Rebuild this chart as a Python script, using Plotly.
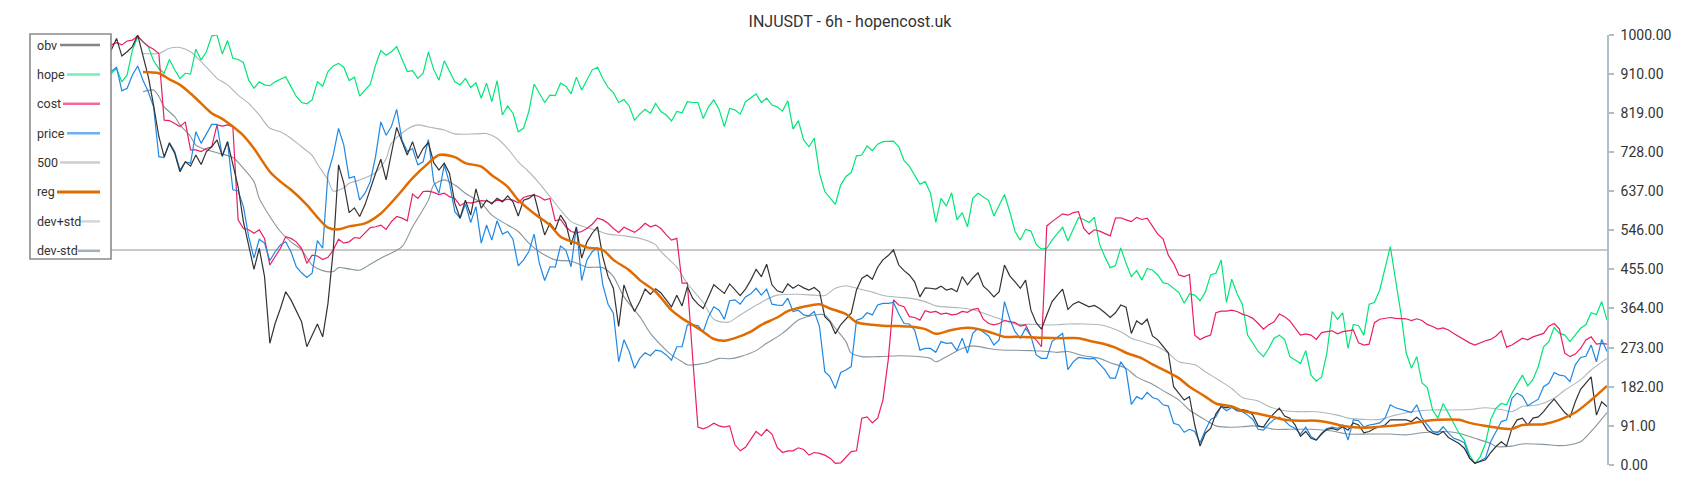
import plotly.graph_objects as go

# ---------------- data (bar index 0..298, values normalised 0..1000) ----------------
N = 299
t = list(range(N))

obv = [905, 930, 918, 945, 962, 950, 972, 958, 980, 992, 975, 960, 978, 955, 970,
       965, 992, 951, 961, 973, 1000, 950, 903, 837, 764,
       717, 748, 725, 682, 705, 695, 721, 699, 729, 740,
       756, 719, 752, 702, 647, 566, 508, 455, 504, 438,
       283, 329, 364, 403, 384, 357, 333, 275, 300, 328,
       298, 376, 500, 698, 655,
       587, 598, 578, 605, 643, 678, 711, 663, 725, 785,
       752, 721, 752, 713, 736, 750, 703, 686, 702, 678,
       609, 574, 616, 581, 642, 597, 616, 607, 620, 612,
       626, 612, 579, 616, 620, 629, 581, 535, 562, 547,
       581, 562, 512, 553, 481, 519, 539, 554, 484, 438,
       411, 322, 419, 384, 357, 380, 409, 397, 410, 400,
       384, 368, 395, 370, 415, 388, 374, 364, 391, 419,
       409, 399, 421, 407, 394, 409, 430, 455, 438, 467,
       419, 405, 401, 421, 411, 419, 412, 407, 413, 403,
       345, 333, 305, 326, 339, 353, 407, 434, 442, 432,
       460, 477, 487, 500, 465, 452, 442, 426, 391, 412,
       411, 409, 416, 407, 410, 403, 438, 419, 435, 447,
       416, 405, 391, 403, 465, 440, 426, 411, 430, 360,
       331, 316, 349, 380, 395, 409, 362, 374, 380, 374,
       368, 371, 364, 354, 343, 354, 372, 367, 306, 335,
       327, 339, 300, 291, 277, 261, 182, 167, 151, 159,
       93, 44, 74, 85, 119, 136, 133, 137, 128, 129,
       126, 116, 91, 88, 106, 120, 132, 114, 109, 93,
       67, 78, 62, 58, 72, 83, 85, 81, 89, 81,
       98, 93, 75, 78, 85, 89, 93, 105, 105, 105,
       105, 101, 111, 101, 81, 74, 70, 78, 64, 57,
       50, 39, 16, 4, 8, 12, 29, 43, 54, 44,
       85, 105, 109, 93, 109, 112, 124, 140, 153, 137,
       122, 111, 147, 176, 191, 205, 116, 147, 136]

hope = [880, 905, 890, 930, 915, 950, 935, 900, 925, 945, 920, 900, 915, 935, 920,
        911, 922, 891, 907, 965, 996, 984, 973, 940, 922,
        911, 943, 919, 899, 911, 909, 967, 942, 961, 998,
        1000, 956, 987, 946, 943, 936, 895, 876, 891, 884,
        882, 891, 897, 903, 880, 857, 843, 840, 849, 891,
        881, 915, 928, 934, 925,
        894, 902, 858, 872, 885, 930, 964, 953, 961, 973,
        943, 915, 917, 899, 911, 960, 920, 895, 940, 917,
        891, 884, 899, 878, 889, 853, 888, 845, 894, 814,
        835, 818, 775, 783, 822, 886, 864, 843, 860, 859,
        888, 881, 863, 902, 872, 895, 919, 925, 899, 878,
        866, 843, 850, 835, 802, 816, 827, 818, 841, 822,
        814, 800, 822, 819, 845, 843, 843, 806, 833, 849,
        827, 787, 829, 826, 816, 845, 853, 863, 843, 853,
        837, 833, 823, 847, 781, 801, 756, 740, 760, 678,
        636, 620, 606, 651, 671, 680, 719, 721, 742, 731,
        746, 752, 752, 753, 740, 708, 695, 674, 653, 659,
        632, 564, 620, 602, 633, 570, 587, 554, 620, 632,
        624, 615, 579, 605, 629, 589, 543, 523, 548, 544,
        513, 502, 504, 523, 539, 553, 521, 548, 575, 571,
        564, 576, 513, 484, 459, 464, 505, 469, 438, 452,
        430, 457, 453, 442, 424, 421, 411, 401, 376, 398,
        395, 382, 402, 442, 446, 477, 378, 432, 399, 374,
        302, 284, 264, 252, 271, 295, 302, 292, 252, 244,
        236, 266, 209, 195, 205, 260, 357, 339, 354, 271,
        327, 324, 302, 374, 378, 407, 455, 508, 430, 353,
        261, 225, 252, 191, 180, 128, 109, 143, 120, 97,
        74, 58, 23, 4, 19, 50, 106, 132, 143, 140,
        167, 188, 209, 184, 199, 229, 275, 287, 320, 306,
        302, 287, 302, 318, 326, 354, 350, 380, 337]

cost = [930, 945, 940, 955, 960, 950, 965, 975, 970, 985, 980, 975, 985, 980, 978,
        977, 982, 977, 986, 988, 998, 984, 974, 967, 957,
        802, 801, 793, 787, 798, 733, 733, 729, 736, 740,
        791, 788, 791, 787, 570, 550, 547, 539, 547, 527,
        465, 484, 504, 531, 527, 519, 504, 469, 488, 486,
        478, 483, 500, 525, 516,
        519, 529, 527, 539, 552, 554, 558, 548, 566, 578,
        574, 568, 630, 620, 636, 637, 634, 629, 632, 624,
        620, 603, 611, 609, 612, 615, 614, 610, 616, 615,
        618, 616, 610, 622, 626, 628, 624, 616, 620, 568,
        571, 554, 543, 540, 543, 550, 560, 574, 570, 562,
        550, 541, 553, 547, 541, 550, 562, 554, 558, 550,
        535, 523, 527, 423, 423, 250, 88, 84, 89, 97,
        91, 88, 91, 47, 33, 41, 58, 78, 68, 83,
        72, 41, 29, 33, 33, 40, 36, 23, 29, 27,
        23, 16, 4, 5, 18, 31, 33, 109, 112, 98,
        109, 151, 244, 384, 372, 368, 345, 343, 337, 359,
        355, 357, 351, 353, 349, 351, 357, 355, 362, 364,
        339, 329, 326, 329, 336, 333, 331, 323, 326, 300,
        291, 275, 556, 566, 576, 584, 581, 587, 589, 550,
        537, 547, 544, 539, 533, 574, 575, 570, 566, 576,
        571, 574, 554, 537, 526, 488, 469, 442, 438, 443,
        302, 292, 298, 302, 354, 358, 358, 360, 357, 351,
        347, 341, 329, 316, 326, 333, 351, 345, 335, 318,
        302, 305, 302, 292, 308, 310, 312, 305, 310, 312,
        314, 284, 279, 281, 331, 339, 341, 343, 341, 341,
        340, 336, 340, 336, 327, 322, 316, 319, 314, 306,
        298, 291, 284, 279, 284, 289, 292, 300, 312, 274,
        279, 287, 295, 291, 298, 302, 306, 323, 329, 316,
        260, 252, 258, 271, 291, 298, 281, 283, 281]

price = [900, 925, 915, 945, 960, 950, 975, 965, 990, 1000, 975, 950, 935, 945, 925,
         915, 925, 870, 876, 907, 928, 895, 868, 833, 717,
         715, 750, 729, 686, 705, 702, 775, 748, 771, 792,
         792, 717, 752, 640, 638, 601, 531, 481, 525, 516,
         475, 496, 512, 519, 496, 461, 447, 436, 446, 522,
         504, 678, 721, 783, 744,
         667, 671, 616, 632, 659, 717, 798, 767, 787, 827,
         756, 729, 736, 698, 705, 757, 659, 632, 698, 655,
         589, 574, 607, 564, 601, 516, 558, 523, 568, 537,
         543, 525, 463, 477, 496, 537, 469, 429, 461, 460,
         509, 500, 461, 554, 429, 477, 496, 506, 419, 374,
         353, 240, 291, 264, 225, 248, 261, 254, 267, 265,
         256, 244, 275, 275, 326, 326, 324, 310, 345, 368,
         360, 339, 382, 384, 374, 391, 398, 411, 395, 409,
         374, 372, 371, 388, 357, 360, 349, 347, 357, 322,
         217, 205, 178, 215, 221, 229, 337, 341, 354, 349,
         372, 376, 376, 378, 351, 329, 328, 314, 267, 271,
         271, 262, 287, 283, 284, 266, 295, 260, 306, 318,
         310, 300, 279, 291, 380, 339, 310, 295, 318, 300,
         256, 248, 248, 287, 297, 306, 222, 240, 250, 248,
         247, 248, 235, 221, 202, 202, 240, 222, 141, 159,
         153, 169, 157, 153, 140, 137, 97, 93, 76, 83,
         78, 52, 81, 106, 112, 136, 126, 134, 126, 124,
         116, 106, 83, 81, 95, 106, 111, 103, 91, 85,
         72, 88, 66, 58, 74, 85, 88, 85, 93, 58,
         105, 103, 88, 93, 95, 98, 109, 140, 133, 130,
         126, 122, 140, 109, 93, 78, 75, 89, 74, 62,
         58, 52, 16, 4, 10, 16, 54, 78, 101, 105,
         155, 167, 160, 138, 145, 153, 182, 190, 215, 209,
         207, 194, 233, 250, 253, 279, 240, 292, 264]

level_500 = 500

reg_t = [21, 24, 26, 28, 30, 32, 34, 36, 38, 40, 42, 45, 47, 49, 52, 54, 56, 58, 60, 63,
         66, 69, 72, 75, 77, 80, 82, 85, 87, 90, 92, 95, 98, 100, 103, 105, 108, 110, 113, 115,
         118, 121, 123, 125, 127, 129, 131, 133, 136, 138, 141, 143, 146, 149, 151, 154, 156, 159, 161, 164,
         166, 169, 171, 174, 177, 179, 181, 184, 186, 189, 191, 195, 198, 200, 203, 205, 207, 210, 212, 214,
         217, 219, 222, 224, 227, 229, 232, 235, 237, 240, 243, 246, 248, 251, 254, 257, 260, 263, 266, 270,
         272, 275, 277, 280, 282, 286, 289, 292, 295, 298]
reg = [914, 911, 897, 884, 864, 841, 818, 805, 787, 766, 736, 682, 659, 640, 605, 576, 552, 548, 555, 562,
       585, 624, 667, 702, 721, 716, 702, 694, 674, 647, 616, 585, 558, 531, 516, 506, 500, 477, 453, 430,
       403, 360, 341, 326, 310, 293, 289, 295, 310, 326, 343, 358, 368, 374, 364, 351, 332, 326, 324, 323,
       322, 316, 305, 314, 319, 316, 310, 298, 298, 297, 296, 295, 295, 289, 281, 273, 261, 248, 234, 222,
       202, 182, 159, 143, 136, 126, 119, 111, 105, 103, 103, 97, 91, 87, 88, 91, 95, 101, 105, 105,
       98, 91, 87, 84, 93, 95, 105, 122, 151, 184]

dev_plus_t = [21, 24, 26, 28, 30, 32, 34, 35, 37, 39, 41, 43, 45, 47, 49, 51, 53, 54, 56, 57,
              59, 60, 62, 65, 67, 68, 71, 73, 75, 78, 80, 84, 86, 88, 90, 92, 94, 96, 98, 100,
              102, 104, 107, 109, 112, 115, 118, 119, 122, 124, 127, 129, 131, 132, 134, 136, 139, 141, 145, 148,
              150, 152, 154, 156, 159, 161, 164, 166, 169, 171, 175, 178, 181, 184, 186, 189, 191, 194, 196, 199,
              202, 204, 206, 208, 210, 213, 215, 217, 220, 222, 225, 227, 229, 232, 234, 237, 240, 243, 247, 249,
              252, 255, 258, 261, 265, 268, 272, 275, 278, 280, 282, 285, 288, 290, 293, 295, 298]
dev_plus = [957, 957, 969, 971, 961, 938, 912, 899, 884, 860, 841, 814, 783, 775, 760, 740, 720, 700, 663, 637,
            645, 655, 663, 680, 712, 748, 781, 791, 786, 779, 770, 770, 771, 760, 736, 705, 682, 655, 624, 593,
            566, 556, 545, 537, 533, 527, 512, 496, 460, 422, 378, 339, 332, 333, 349, 364, 385, 395, 397, 395,
            394, 411, 417, 411, 402, 394, 390, 388, 380, 370, 366, 361, 349, 336, 328, 327, 326, 326, 328, 328,
            326, 320, 310, 295, 287, 275, 260, 240, 233, 217, 194, 178, 157, 149, 136, 126, 124, 124, 116, 109,
            106, 106, 116, 124, 128, 128, 129, 133, 129, 124, 136, 140, 155, 174, 198, 221, 248]

dev_minus_t = [21, 23, 24, 25, 27, 28, 30, 31, 33, 35, 38, 40, 42, 43, 45, 47, 49, 51, 53, 55,
               57, 58, 60, 62, 64, 66, 70, 72, 75, 76, 78, 80, 82, 85, 87, 90, 92, 94, 96, 99,
               102, 105, 108, 110, 112, 115, 117, 119, 121, 123, 124, 126, 128, 130, 132, 134, 137, 139, 142, 145,
               147, 148, 150, 152, 154, 155, 157, 160, 164, 167, 170, 171, 173, 176, 178, 181, 184, 186, 189, 191,
               194, 196, 199, 202, 204, 207, 209, 212, 214, 217, 219, 222, 224, 226, 229, 231, 233, 235, 238, 242,
               246, 249, 253, 257, 260, 263, 267, 270, 273, 276, 277, 280, 282, 286, 289, 291, 293, 295, 298]
dev_minus = [868, 872, 857, 833, 810, 791, 764, 744, 733, 726, 715, 690, 659, 620, 578, 543, 519, 500, 465, 452,
             450, 459, 456, 453, 467, 481, 508, 554, 616, 651, 663, 651, 632, 609, 581, 558, 543, 516, 496, 477,
             474, 460, 459, 438, 391, 345, 306, 279, 256, 240, 233, 234, 239, 248, 247, 252, 266, 283, 306, 337,
             346, 349, 349, 318, 287, 260, 252, 252, 254, 253, 248, 240, 252, 271, 277, 271, 267, 267, 266, 265,
             262, 264, 254, 248, 238, 225, 205, 188, 173, 151, 128, 105, 91, 88, 89, 91, 88, 83, 83, 83,
             79, 72, 72, 72, 70, 75, 78, 74, 62, 50, 43, 44, 49, 48, 45, 47, 54, 78, 122]

y_ticks = [0, 91, 182, 273, 364, 455, 546, 637, 728, 819, 910, 1000]
title_text = "INJUSDT - 6h - hopencost.uk"

# ---------------- styling ----------------
C_OBV = "#333333"
C_HOPE = "#00E676"
C_COST = "#E91E63"
C_PRICE = "#1E88E5"
C_500 = "#C8C8C8"
C_REG = "#E06C00"
C_DPLUS = "#ADB7BD"
C_DMINUS = "#86959F"
FONT = "Roboto"

W, H = 1700, 500
ML, MR, MT, MB = 32, 93, 35, 35
PW, PH = W - ML - MR, H - MT - MB

fig = go.Figure()

fig.add_trace(go.Scatter(x=t, y=[level_500] * N, mode="lines", name="500",
                         line=dict(color=C_500, width=2)))
fig.add_trace(go.Scatter(x=dev_plus_t, y=dev_plus, mode="lines", name="dev+std",
                         line=dict(color=C_DPLUS, width=1.1, shape="spline", smoothing=0.8)))
fig.add_trace(go.Scatter(x=dev_minus_t, y=dev_minus, mode="lines", name="dev-std",
                         line=dict(color=C_DMINUS, width=1.1, shape="spline", smoothing=0.8)))
fig.add_trace(go.Scatter(x=t, y=hope, mode="lines", name="hope",
                         line=dict(color=C_HOPE, width=1.2)))
fig.add_trace(go.Scatter(x=t, y=cost, mode="lines", name="cost",
                         line=dict(color=C_COST, width=1.2)))
fig.add_trace(go.Scatter(x=t, y=price, mode="lines", name="price",
                         line=dict(color=C_PRICE, width=1.2)))
fig.add_trace(go.Scatter(x=t, y=obv, mode="lines", name="obv",
                         line=dict(color=C_OBV, width=1.2)))
fig.add_trace(go.Scatter(x=reg_t, y=reg, mode="lines", name="reg",
                         line=dict(color=C_REG, width=2.5, shape="spline", smoothing=0.8)))


def px_x(p):
    return (p - ML) / PW


def px_y(p):
    return (H - MB - p) / PH


# legend box (text first, then line sample) drawn on top of the plot
legend_items = [("obv", C_OBV, 0.6, 2.5), ("hope", C_HOPE, 0.55, 2.5), ("cost", C_COST, 0.65, 2.5),
                ("price", C_PRICE, 0.65, 2.5), ("500", C_500, 0.9, 2.5), ("reg", C_REG, 1.0, 3),
                ("dev+std", C_DPLUS, 0.55, 2.5), ("dev-std", C_DMINUS, 0.75, 2.5)]
legend_line_start = [60, 67, 63, 67, 60, 57, 80, 78]
shapes = [dict(type="rect", xref="paper", yref="paper",
               x0=px_x(30), x1=px_x(111), y0=px_y(34), y1=px_y(259),
               fillcolor="white", line=dict(color="#8A8A8A", width=1.6), layer="above")]
annotations = []
for i, (name, col, op, lw) in enumerate(legend_items):
    yc = 45 + 29.4 * i
    shapes.append(dict(type="line", xref="paper", yref="paper",
                       x0=px_x(legend_line_start[i]), x1=px_x(100), y0=px_y(yc), y1=px_y(yc),
                       line=dict(color=col, width=lw), opacity=op, layer="above"))
    annotations.append(dict(text=name, xref="paper", yref="paper", x=px_x(35), y=px_y(yc),
                            xanchor="left", yanchor="middle", showarrow=False,
                            font=dict(family=FONT, size=12.5, color="#333333")))

fig.update_layout(
    width=W, height=H, autosize=False,
    margin=dict(l=ML, r=MR, t=MT, b=MB, pad=0),
    paper_bgcolor="white", plot_bgcolor="white",
    showlegend=False, hovermode=False,
    font=dict(family=FONT, color="#333333"),
    title=dict(text=title_text, x=0.5, xref="container", xanchor="center",
               y=1 - 21 / H, yref="container", yanchor="middle",
               font=dict(family=FONT, size=16, color="#333333")),
    xaxis=dict(range=[0, N - 1], visible=False, showgrid=False, zeroline=False, fixedrange=True),
    yaxis=dict(range=[0, 1000], side="right", showgrid=False, zeroline=False,
               tickvals=y_ticks, ticktext=[f"{v:.2f}" for v in y_ticks],
               showline=True, linecolor="#B0BEC5", linewidth=1.5,
               ticks="outside", ticklen=5, tickwidth=1.5, tickcolor="#B0BEC5",
               ticklabelstandoff=4,
               tickfont=dict(family=FONT, size=14, color="#333333"), fixedrange=True),
    shapes=shapes,
    annotations=annotations,
)

fig.write_html("out.html", config={"displayModeBar": False},
               post_script="document.body.style.margin='0';document.body.style.overflow='hidden';")
